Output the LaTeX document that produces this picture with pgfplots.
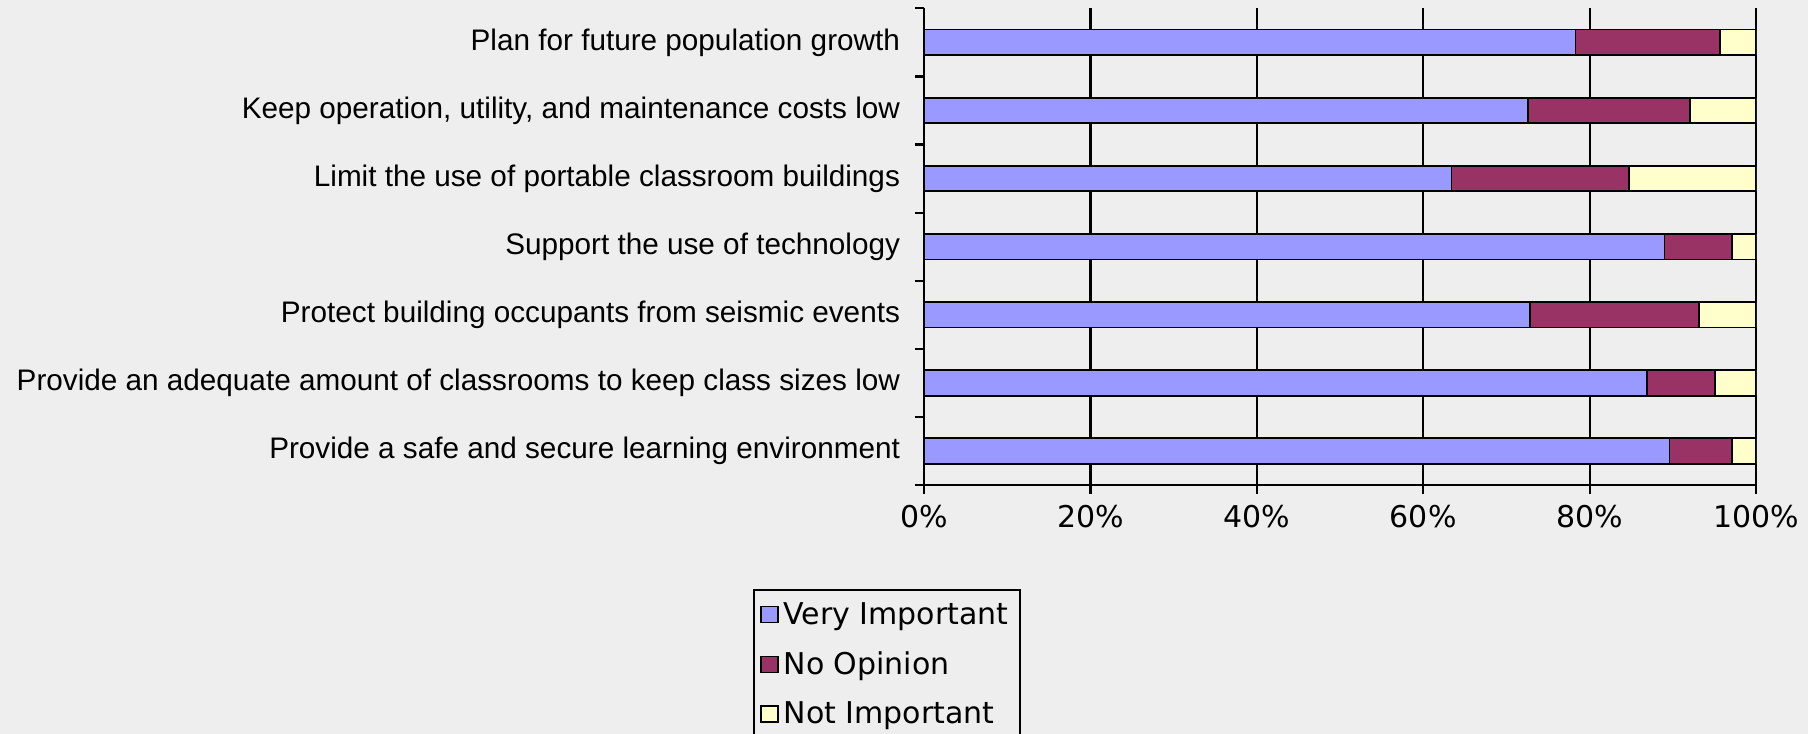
\documentclass[border=0pt]{standalone}
\usepackage{fontspec}
\setmainfont{Liberation Sans}
\newfontfamily\dejavu{DejaVu Sans}
\usepackage{pgfplots}
\pgfplotsset{compat=1.18}
\definecolor{bg}{HTML}{EEEEEE}
\definecolor{vi}{HTML}{9999FF}
\definecolor{no}{HTML}{993366}
\definecolor{ni}{HTML}{FFFFCC}
\pgfplotsset{
  sqlegend/.style={legend image code/.code={\draw[##1,draw=black,line width=0.8bp] (0bp,-4bp) rectangle (8.5bp,4bp);}}
}
\begin{document}
\begin{tikzpicture}
\fill[bg] (0,0) rectangle (904bp,367bp);
\begin{axis}[
  at={(462bp,124.5bp)}, anchor=south west, scale only axis,
  width=416bp, height=238.35bp,
  xbar stacked, bar width=12.8bp,
  xmin=0, xmax=100, ymin=-0.5, ymax=6.5, y dir=reverse,
  axis x line*=bottom, axis y line*=left,
  axis line style={line width=1.1bp, black, -},
  xtick={0,20,40,60,80,100},
  xticklabels={0\%,20\%,40\%,60\%,80\%,100\%},
  xmajorgrids, grid style={black, line width=1.1bp},
  ytick={-0.5,0.5,1.5,2.5,3.5,4.5,5.5},
  yticklabels={Plan for future population growth,
    {Keep operation, utility, and maintenance costs low},
    Limit the use of portable classroom buildings,
    Support the use of technology,
    Protect building occupants from seismic events,
    Provide an adequate amount of classrooms to keep class sizes low,
    Provide a safe and secure learning environment},
  extra y ticks={6.5}, extra y tick labels={},
  tick align=outside, major tick length=4.5bp,
  tick style={black, line width=1.1bp},
  yticklabel style={font=\fontsize{14.85bp}{17bp}\selectfont, yshift=-17.02bp, xshift=-4bp},
  xticklabel style={font=\dejavu\fontsize{15bp}{18bp}\selectfont, yshift=-2bp},
  legend style={at={(-0.2055,-0.2182)}, anchor=north west, draw=black, line width=1bp,
    fill=bg, inner xsep=3bp, inner ysep=0bp,
    nodes={inner xsep=2.5bp, inner ysep=6.1bp, font=\dejavu\fontsize{15bp}{18bp}\selectfont}},
  legend cell align=left,
]
\addplot[fill=vi, draw=black, line width=0.9bp, sqlegend] coordinates {
  (78.3,0) (72.6,1) (63.4,2) (89.0,3) (72.8,4) (86.9,5) (89.6,6)};
\addplot[fill=no, draw=black, line width=0.9bp, sqlegend] coordinates {
  (17.4,0) (19.5,1) (21.3,2) (8.1,3) (20.3,4) (8.2,5) (7.5,6)};
\addplot[fill=ni, draw=black, line width=0.9bp, sqlegend] coordinates {
  (4.3,0) (7.9,1) (15.3,2) (2.9,3) (6.9,4) (4.9,5) (2.9,6)};
\legend{Very Important, No Opinion, Not Important}
\end{axis}
\pgfresetboundingbox
\path[use as bounding box] (0,0) rectangle (904bp,367bp);
\end{tikzpicture}
\end{document}
